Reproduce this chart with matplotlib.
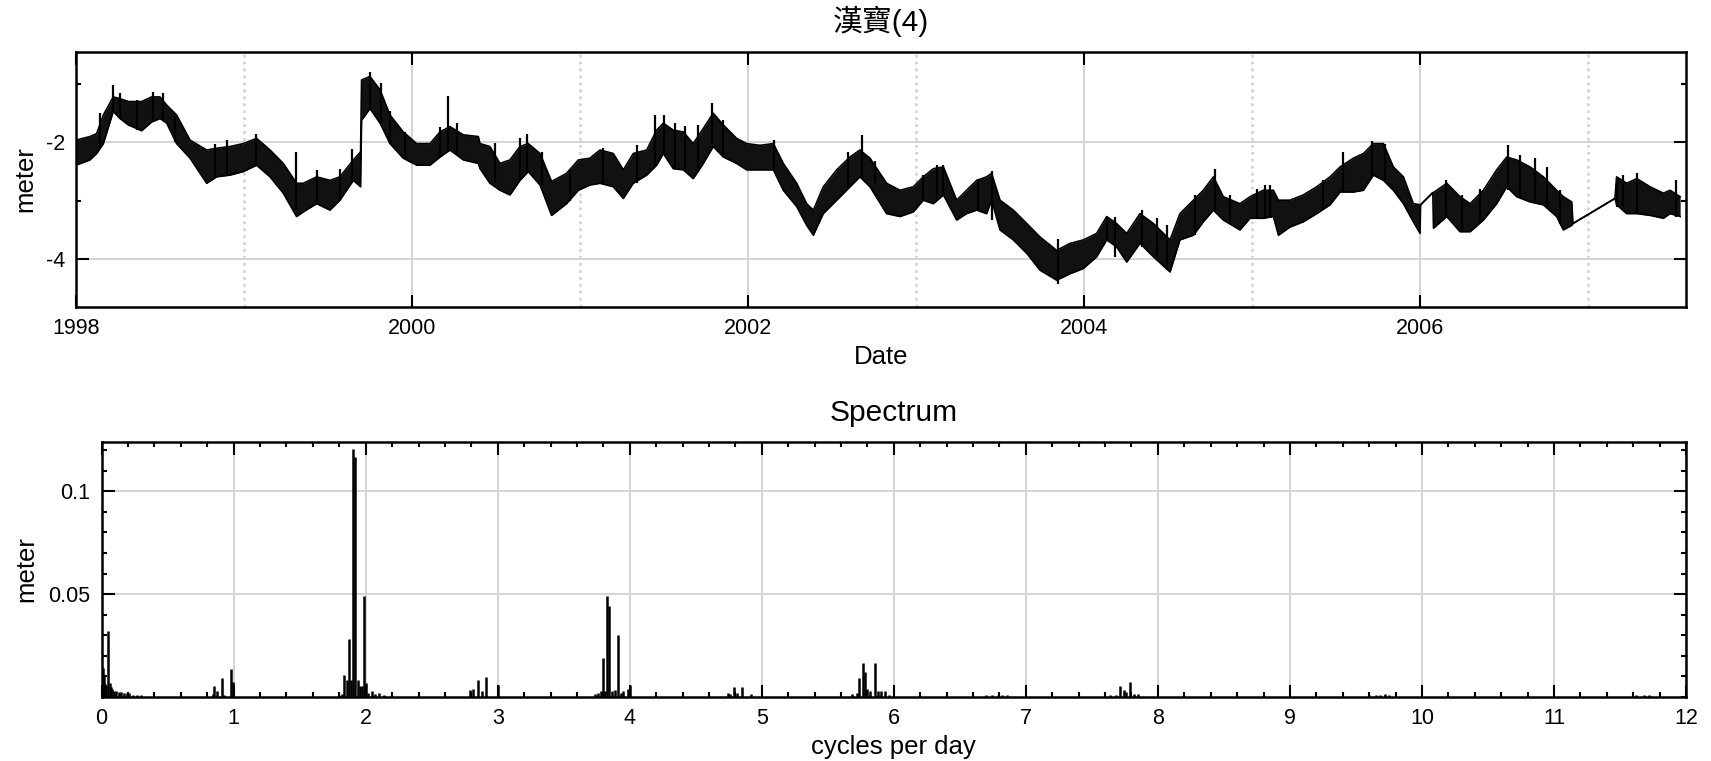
import matplotlib
matplotlib.use("Agg")
import matplotlib.pyplot as plt
from matplotlib.ticker import MultipleLocator, FixedLocator

plt.rcParams['font.family'] = ['Liberation Sans', 'Noto Sans CJK TC', 'DejaVu Sans']
plt.rcParams['axes.unicode_minus'] = False

# Water level record (decimal year, lower / upper edge of the daily band, meter)
level_years = [
    1998.000, 1998.083, 1998.123, 1998.163, 1998.222, 1998.262, 1998.312, 1998.391,
    1998.450, 1998.500, 1998.540, 1998.599, 1998.679, 1998.778, 1998.837, 1998.917,
    1998.996, 1999.075, 1999.155, 1999.234, 1999.313, 1999.353, 1999.433, 1999.512,
    1999.571, 1999.651, 1999.694, 1999.700, 1999.750, 1999.810, 1999.869, 1999.948,
    2000.028, 2000.107, 2000.167, 2000.226, 2000.306, 2000.395, 2000.405, 2000.464,
    2000.524, 2000.583, 2000.643, 2000.692, 2000.762, 2000.831, 2000.920, 2000.990,
    2001.059, 2001.119, 2001.198, 2001.258, 2001.317, 2001.397, 2001.456, 2001.496,
    2001.555, 2001.615, 2001.674, 2001.734, 2001.793, 2001.853, 2001.932, 2001.992,
    2002.071, 2002.151, 2002.210, 2002.290, 2002.349, 2002.389, 2002.448, 2002.528,
    2002.607, 2002.666, 2002.726, 2002.825, 2002.905, 2002.984, 2003.043, 2003.103,
    2003.163, 2003.242, 2003.301, 2003.361, 2003.420, 2003.450, 2003.500, 2003.579,
    2003.659, 2003.738, 2003.837, 2003.917, 2003.996, 2004.075, 2004.135, 2004.194,
    2004.254, 2004.333, 2004.413, 2004.512, 2004.571, 2004.651, 2004.710, 2004.770,
    2004.829, 2004.928, 2004.988, 2005.067, 2005.127, 2005.157, 2005.226, 2005.305,
    2005.385, 2005.464, 2005.524, 2005.603, 2005.663, 2005.722, 2005.782, 2005.841,
    2005.901, 2005.960, 2006.000, 2006.003, 2006.076, 2006.080, 2006.159, 2006.238,
    2006.298, 2006.377, 2006.456, 2006.516, 2006.575, 2006.655, 2006.734, 2006.813,
    2006.853, 2006.903, 2006.910, 2007.160, 2007.170, 2007.230, 2007.290, 2007.369,
    2007.448, 2007.488, 2007.548,
]
level_low = [
    -2.39, -2.30, -2.19, -2.02, -1.47, -1.59, -1.70, -1.80,
    -1.65, -1.59, -1.67, -2.02, -2.27, -2.70, -2.59, -2.56,
    -2.50, -2.39, -2.59, -2.87, -3.27, -3.19, -3.05, -3.16,
    -2.99, -2.65, -2.76, -1.62, -1.42, -1.67, -2.02, -2.27,
    -2.39, -2.39, -2.25, -2.13, -2.30, -2.36, -2.45, -2.70,
    -2.82, -2.90, -2.65, -2.50, -2.73, -3.25, -3.05, -2.82,
    -2.73, -2.70, -2.76, -2.96, -2.70, -2.56, -2.39, -2.19,
    -2.45, -2.47, -2.62, -2.36, -2.07, -2.25, -2.36, -2.47,
    -2.47, -2.47, -2.82, -3.10, -3.42, -3.59, -3.22, -2.99,
    -2.76, -2.59, -2.76, -3.22, -3.27, -3.19, -2.99, -3.05,
    -2.90, -3.33, -3.22, -3.16, -3.22, -2.99, -3.50, -3.67,
    -3.90, -4.19, -4.36, -4.25, -4.16, -3.96, -3.67, -3.79,
    -4.05, -3.73, -3.96, -4.22, -3.67, -3.59, -3.36, -3.16,
    -3.33, -3.50, -3.30, -3.30, -3.27, -3.59, -3.45, -3.36,
    -3.22, -3.07, -2.85, -2.85, -2.82, -2.56, -2.65, -2.82,
    -3.05, -3.36, -3.56, -3.07, -2.86, -3.47, -3.27, -3.53,
    -3.53, -3.33, -3.05, -2.76, -2.93, -3.02, -3.07, -3.27,
    -3.50, -3.42, -3.39, -2.96, -3.07, -3.22, -3.22, -3.25,
    -3.30, -3.22, -3.27,
]
level_high = [
    -1.96, -1.90, -1.85, -1.53, -1.22, -1.25, -1.30, -1.30,
    -1.22, -1.22, -1.36, -1.53, -1.96, -2.13, -2.10, -2.07,
    -2.02, -1.93, -2.13, -2.36, -2.70, -2.70, -2.59, -2.65,
    -2.59, -2.30, -2.16, -0.93, -0.87, -1.10, -1.53, -1.82,
    -2.02, -2.02, -1.82, -1.73, -1.87, -1.90, -2.02, -2.07,
    -2.36, -2.30, -2.07, -2.02, -2.19, -2.67, -2.53, -2.30,
    -2.27, -2.13, -2.19, -2.47, -2.19, -2.13, -1.79, -1.67,
    -1.79, -1.82, -2.02, -1.76, -1.50, -1.70, -1.93, -2.02,
    -2.05, -2.02, -2.36, -2.70, -3.05, -3.16, -2.76, -2.47,
    -2.25, -2.13, -2.27, -2.70, -2.82, -2.76, -2.59, -2.45,
    -2.42, -2.99, -2.82, -2.65, -2.59, -2.53, -2.99, -3.16,
    -3.39, -3.62, -3.85, -3.73, -3.67, -3.56, -3.27, -3.39,
    -3.56, -3.22, -3.39, -3.67, -3.22, -2.99, -2.82, -2.59,
    -2.93, -3.05, -2.93, -2.82, -2.82, -2.99, -2.99, -2.90,
    -2.76, -2.59, -2.42, -2.27, -2.19, -2.02, -2.02, -2.42,
    -2.59, -3.05, -3.07, -3.07, -2.86, -2.86, -2.70, -2.93,
    -3.05, -2.82, -2.47, -2.25, -2.30, -2.42, -2.59, -2.82,
    -2.93, -3.02, -3.39, -2.96, -2.59, -2.70, -2.62, -2.76,
    -2.87, -2.82, -2.93,
]

# Single tall daily peaks sticking out of the band
spike_years = [
    1998.143, 1998.218, 1998.262, 1998.361, 1998.460, 1998.516, 1998.589, 1998.827,
    1998.897, 1999.071, 1999.310, 1999.437, 1999.571, 1999.641, 1999.750, 1999.813,
    1999.869, 1999.958, 2000.167, 2000.212, 2000.266, 2000.494, 2000.643, 2000.686,
    2000.772, 2000.940, 2001.139, 2001.337, 2001.446, 2001.502, 2001.565, 2001.625,
    2001.704, 2001.783, 2001.853, 2002.155, 2002.597, 2002.676, 2002.756, 2003.043,
    2003.123, 2003.163, 2003.371, 2003.450, 2003.843, 2004.135, 2004.185, 2004.343,
    2004.432, 2004.496, 2004.660, 2004.780, 2004.869, 2005.028, 2005.077, 2005.107,
    2005.424, 2005.544, 2005.712, 2005.792, 2006.155, 2006.248, 2006.357, 2006.526,
    2006.595, 2006.684, 2006.754, 2006.833, 2007.170, 2007.210, 2007.290, 2007.524,
]
spike_low = [
    -2.10, -1.50, -1.59, -1.78, -1.62, -1.62, -2.00, -2.60,
    -2.56, -2.39, -3.16, -3.05, -2.99, -2.65, -1.42, -1.67,
    -2.02, -2.27, -2.25, -2.16, -2.20, -2.70, -2.65, -2.53,
    -2.73, -3.00, -2.70, -2.70, -2.39, -2.19, -2.45, -2.47,
    -2.50, -2.02, -2.25, -2.47, -2.76, -2.59, -2.70, -2.99,
    -2.99, -2.90, -3.16, -3.33, -4.42, -3.67, -3.96, -3.79,
    -3.96, -4.19, -3.59, -3.16, -3.40, -3.30, -3.30, -3.27,
    -3.15, -2.85, -2.59, -2.65, -3.27, -3.53, -3.35, -2.82,
    -2.93, -3.02, -3.10, -3.40, -3.10, -3.10, -3.22, -3.27,
]
spike_high = [
    -1.50, -1.02, -1.16, -1.27, -1.13, -1.16, -1.53, -2.02,
    -1.96, -1.86, -2.16, -2.47, -2.45, -2.12, -0.79, -0.99,
    -1.47, -1.82, -1.73, -1.21, -1.67, -2.01, -1.93, -1.86,
    -2.16, -2.47, -2.09, -2.05, -1.53, -1.53, -1.67, -1.72,
    -1.70, -1.32, -1.61, -1.95, -2.16, -1.87, -2.31, -2.56,
    -2.39, -2.39, -2.62, -2.49, -3.65, -3.27, -3.27, -3.16,
    -3.30, -3.42, -2.90, -2.46, -2.90, -2.80, -2.73, -2.73,
    -2.65, -2.16, -1.98, -2.02, -2.65, -2.90, -2.79, -2.05,
    -2.22, -2.27, -2.42, -2.82, -2.60, -2.56, -2.53, -2.65,
]

# Amplitude spectrum (cycles per day, meter)
spec_freq = [
    0.005, 0.010, 0.015, 0.020, 0.028, 0.035, 0.050, 0.060, 0.070, 0.080,
    0.095, 0.110, 0.130, 0.150, 0.170, 0.190, 0.210, 0.240, 0.270, 0.300,
    0.840, 0.851, 0.871, 0.912, 0.930, 0.977, 0.992,
    1.800, 1.820, 1.838, 1.859, 1.874, 1.889, 1.904, 1.919, 1.939, 1.955,
    1.970, 1.987, 2.000, 2.020, 2.045, 2.070, 2.100, 2.140,
    2.790, 2.816, 2.848, 2.880, 2.913, 3.000,
    3.740, 3.760, 3.780, 3.800, 3.812, 3.830, 3.845, 3.868, 3.885, 3.912,
    3.930, 3.950, 3.985, 4.000,
    4.742, 4.760, 4.786, 4.810, 4.853, 4.918,
    5.686, 5.720, 5.735, 5.768, 5.785, 5.800, 5.820, 5.854, 5.880, 5.906,
    5.935, 5.960,
    6.700, 6.740, 6.790, 6.820, 6.860,
    7.636, 7.680, 7.711, 7.740, 7.760, 7.790, 7.820, 7.850,
    9.600, 9.650, 9.680, 9.720, 9.750,
    11.62, 11.68, 11.72,
]
spec_amp = [
    0.0090, 0.0142, 0.0100, 0.0070, 0.0065, 0.0060, 0.0323, 0.0070, 0.0050, 0.0040,
    0.0030, 0.0028, 0.0025, 0.0025, 0.0020, 0.0020, 0.0018, 0.0012, 0.0010, 0.0008,
    0.0015, 0.0053, 0.0030, 0.0094, 0.0010, 0.0134, 0.0074,
    0.0010, 0.0015, 0.0105, 0.0085, 0.0282, 0.0085, 0.1206, 0.1166, 0.0082, 0.0053,
    0.0053, 0.0489, 0.0070, 0.0020, 0.0030, 0.0015, 0.0020, 0.0010,
    0.0034, 0.0040, 0.0082, 0.0030, 0.0095, 0.0060,
    0.0015, 0.0020, 0.0030, 0.0188, 0.0030, 0.0493, 0.0441, 0.0030, 0.0035, 0.0302,
    0.0020, 0.0030, 0.0040, 0.0057,
    0.0020, 0.0015, 0.0049, 0.0020, 0.0049, 0.0016,
    0.0015, 0.0018, 0.0094, 0.0166, 0.0123, 0.0040, 0.0030, 0.0166, 0.0028, 0.0028,
    0.0028, 0.0010,
    0.0010, 0.0012, 0.0012, 0.0012, 0.0008,
    0.0012, 0.0012, 0.0053, 0.0035, 0.0025, 0.0074, 0.0015, 0.0015,
    0.0008, 0.0010, 0.0012, 0.0015, 0.0010,
    0.0008, 0.0010, 0.0010,
]

year_ticks = [1998, 2000, 2002, 2004, 2006]
grid_color = "#d4d4d4"


def style_axes(ax):
    """Box axes with inward ticks on every side, as in the original figure."""
    for spine in ax.spines.values():
        spine.set_linewidth(1.8)
    ax.tick_params(which="both", direction="in", top=True, right=True,
                   width=1.5, labelsize=15.5, pad=8)
    ax.tick_params(which="major", length=9)
    ax.tick_params(which="minor", length=3.5)
    ax.set_axisbelow(True)


fig = plt.figure(figsize=(17.11, 7.61), dpi=100)

# Top panel: the water level time series
ax_top = fig.add_axes([0.0444, 0.5966, 0.9410, 0.3351])
style_axes(ax_top)
ax_top.fill_between(level_years, level_low, level_high, color="#111111", linewidth=0)
ax_top.plot(level_years, level_low, color="black", linewidth=1.2)
ax_top.plot(level_years, level_high, color="black", linewidth=1.2)
ax_top.vlines(spike_years, spike_low, spike_high, color="black", linewidth=1.6)
ax_top.set_xlim(1998, 2007.583)
ax_top.set_ylim(-4.82, -0.45)
ax_top.xaxis.set_major_locator(FixedLocator(year_ticks))
ax_top.xaxis.set_minor_locator(FixedLocator([1999, 2001, 2003, 2005, 2007]))
ax_top.yaxis.set_major_locator(FixedLocator([-4, -2]))
ax_top.yaxis.set_minor_locator(FixedLocator([-3, -1]))
ax_top.set_xticklabels([str(y) for y in year_ticks])
ax_top.tick_params(axis="x", which="minor", length=0)
ax_top.grid(which="major", color=grid_color, linewidth=1.4)
ax_top.grid(which="minor", axis="x", color=grid_color, linewidth=2.0, linestyle=(0, (1, 1.5)))
ax_top.set_xlabel("Date", fontsize=18.5, labelpad=4.5)
ax_top.set_ylabel("meter", fontsize=18.5)
ax_top.yaxis.set_label_coords(-0.024, 0.5)
ax_top.set_title("漢寶(4)", fontsize=21.5, pad=15)

# Bottom panel: amplitude spectrum
ax_spec = fig.add_axes([0.0594, 0.0841, 0.9260, 0.3351])
style_axes(ax_spec)
ax_spec.vlines(spec_freq, 0, spec_amp, color="black", linewidth=1.8)
ax_spec.set_xlim(0, 12)
ax_spec.set_ylim(0, 0.124)
ax_spec.xaxis.set_major_locator(MultipleLocator(1))
ax_spec.xaxis.set_minor_locator(MultipleLocator(0.2))
ax_spec.yaxis.set_major_locator(FixedLocator([0.05, 0.1]))
ax_spec.yaxis.set_minor_locator(MultipleLocator(0.01))
ax_spec.set_yticklabels(["0.05", "0.1"])
ax_spec.grid(which="major", color=grid_color, linewidth=1.4)
ax_spec.set_xlabel("cycles per day", fontsize=18.5, labelpad=4)
ax_spec.set_ylabel("meter", fontsize=18.5)
ax_spec.yaxis.set_label_coords(-0.040, 0.5)
ax_spec.set_title("Spectrum", fontsize=21.5, pad=15)

fig.savefig("out.png", dpi=100)
